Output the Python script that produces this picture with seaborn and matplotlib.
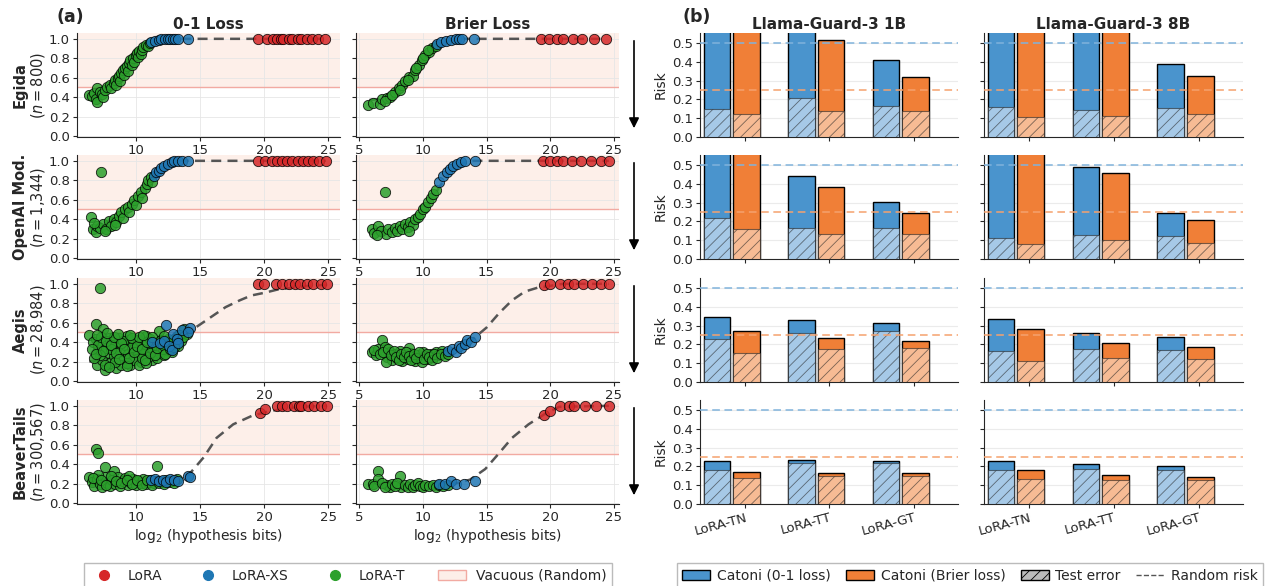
import numpy as np
import pandas as pd
import matplotlib
matplotlib.use("Agg")
import matplotlib.pyplot as plt
import seaborn as sns
from matplotlib.lines import Line2D
from matplotlib.patches import Patch

sns.set_style("ticks")
plt.rcParams['font.family'] = ['DejaVu Sans']
plt.rcParams['hatch.linewidth'] = 0.6

# ---------------- panel (a) data: (log2 bits, risk) ----------------
egida_01_green = [(6.4,0.42),(6.6,0.41),(6.8,0.44),(6.9,0.38),(7.0,0.35),(7.0,0.49),(7.2,0.45),(7.4,0.43),
                  (7.5,0.40),(7.6,0.47),(7.8,0.50),(8.0,0.52),(8.1,0.49),(8.3,0.55),(8.4,0.58),(8.5,0.52),
                  (8.6,0.60),(8.7,0.62),(8.8,0.57),(8.9,0.65),(9.0,0.68),(9.1,0.63),(9.2,0.70),(9.3,0.72),
                  (9.4,0.67),(9.5,0.75),(9.6,0.78),(9.7,0.73),(9.8,0.80),(9.9,0.76),(10.0,0.83),(10.1,0.85),
                  (10.2,0.81),(10.3,0.87),(10.4,0.84),(10.5,0.89),(10.6,0.92),(10.8,0.94),(11.0,0.93),(11.1,0.96)]
egida_01_blue = [(11.2,0.97),(11.5,0.98),(11.8,0.99),(12.0,1.0),(12.3,1.0),(12.5,1.0),(12.7,1.0),(12.9,1.0),
                 (13.1,1.0),(13.3,1.0),(14.1,1.0)]
egida_01_red = [(19.5,1.0),(20.2,1.0),(20.7,1.0),(21.0,1.0),(21.3,1.0),(21.5,1.0),(21.9,1.0),(22.2,1.0),
                (22.6,1.0),(22.9,1.0),(23.3,1.0),(23.7,1.0),(24.2,1.0),(24.7,1.0)]
egida_01_fit_x = [6.3, 7.0, 7.5, 8.0, 8.5, 9.0, 9.5, 10.0, 10.5, 11.0, 11.5, 12.0, 12.5, 13.0, 14.0, 20.0, 24.7]
egida_01_fit_y = [0.41, 0.45, 0.48, 0.52, 0.57, 0.64, 0.71, 0.79, 0.86, 0.92, 0.96, 0.98, 0.99, 1.0, 1.0, 1.0, 1.0]

egida_br_green = [(5.7,0.32),(6.1,0.34),(6.6,0.33),(6.8,0.38),(7.2,0.39),(7.4,0.40),(7.8,0.45),(8.1,0.49),
                  (8.4,0.52),(8.6,0.57),(8.9,0.61),(9.2,0.62),(9.4,0.68),(9.7,0.73),(9.9,0.78),(10.2,0.83),
                  (10.5,0.86),(10.7,0.91),(11.0,0.93),(7.0,0.36),(7.6,0.42),(8.2,0.47),(8.8,0.58),(9.5,0.70),
                  (10.0,0.80),(10.4,0.88)]
egida_br_blue = [(11.1,0.95),(11.4,0.97),(11.8,0.98),(12.2,0.99),(12.6,1.0),(12.8,1.0),(13.1,1.0),(14.0,1.0)]
egida_br_red = [(19.3,1.0),(19.9,1.0),(20.5,1.0),(21.0,1.0),(21.8,1.0),(22.5,1.0),(23.4,1.0),(24.4,1.0)]
egida_br_fit_x = [5.8, 6.5, 7.0, 7.5, 8.0, 8.5, 9.0, 9.5, 10.0, 10.5, 11.0, 11.5, 12.0, 13.0, 14.0, 20.0, 24.4]
egida_br_fit_y = [0.37, 0.38, 0.40, 0.44, 0.49, 0.55, 0.62, 0.69, 0.77, 0.85, 0.91, 0.95, 0.98, 1.0, 1.0, 1.0, 1.0]

openai_01_green = [(6.5,0.42),(6.7,0.30),(6.9,0.27),(7.0,0.33),(7.2,0.31),(7.3,0.88),(7.5,0.35),(7.7,0.30),
                   (7.9,0.38),(8.1,0.33),(8.3,0.40),(8.5,0.37),(8.7,0.43),(8.9,0.47),(9.0,0.41),(9.2,0.50),
                   (9.4,0.53),(9.5,0.47),(9.7,0.56),(9.9,0.60),(10.0,0.55),(10.2,0.64),(10.4,0.68),(10.5,0.62),
                   (10.7,0.72),(10.9,0.76),(11.0,0.80),(11.2,0.83),(11.3,0.78),(6.8,0.36),(7.6,0.28),(8.4,0.34)]
openai_01_blue = [(11.4,0.84),(11.6,0.88),(11.8,0.90),(12.0,0.93),(12.2,0.95),(12.5,0.97),(12.8,0.99),
                  (13.0,1.0),(13.3,1.0),(13.6,1.0),(14.1,1.0)]
openai_01_red = [(19.5,1.0),(20.1,1.0),(20.6,1.0),(21.0,1.0),(21.4,1.0),(21.8,1.0),(22.2,1.0),(22.6,1.0),
                 (23.0,1.0),(23.4,1.0),(23.8,1.0),(24.3,1.0),(24.8,1.0)]
openai_01_fit_x = [6.5, 7.5, 8.5, 9.0, 9.5, 10.0, 10.5, 11.0, 11.5, 12.0, 12.5, 13.0, 13.5, 14.0, 20.0, 24.8]
openai_01_fit_y = [0.30, 0.35, 0.43, 0.48, 0.54, 0.61, 0.69, 0.78, 0.86, 0.92, 0.96, 0.98, 1.0, 1.0, 1.0, 1.0]

openai_br_green = [(6.0,0.30),(6.2,0.26),(6.5,0.33),(6.7,0.28),(7.0,0.68),(7.1,0.25),(7.3,0.30),(7.6,0.27),
                   (7.8,0.31),(8.0,0.28),(8.2,0.33),(8.4,0.30),(8.6,0.35),(8.8,0.32),(9.0,0.37),(9.2,0.34),
                   (9.4,0.40),(9.6,0.42),(9.8,0.45),(10.0,0.50),(10.2,0.53),(10.4,0.58),(10.6,0.62),(10.8,0.66),
                   (11.0,0.70),(6.4,0.24),(8.9,0.28)]
openai_br_blue = [(11.3,0.78),(11.6,0.84),(11.9,0.88),(12.1,0.92),(12.4,0.95),(12.7,0.97),(13.0,0.99),
                  (13.3,1.0),(14.1,1.0)]
openai_br_red = [(19.4,1.0),(20.0,1.0),(20.5,1.0),(21.0,1.0),(21.7,1.0),(22.4,1.0),(23.2,1.0),(24.0,1.0),
                 (24.6,1.0)]
openai_br_fit_x = [6.0, 7.0, 8.0, 9.0, 9.5, 10.0, 10.5, 11.0, 11.5, 12.0, 12.5, 13.0, 13.5, 14.0, 20.0, 24.6]
openai_br_fit_y = [0.27, 0.28, 0.30, 0.36, 0.41, 0.48, 0.57, 0.67, 0.77, 0.86, 0.92, 0.96, 0.99, 1.0, 1.0, 1.0]

aegis_01_green = [(6.4,0.47),(6.9,0.43),(6.9,0.59),(7.2,0.96),(7.5,0.54),(7.05,0.32),(7.0,0.16),(7.6,0.11),
                  (7.3,0.39),(7.9,0.44),(7.8,0.29),(8.5,0.13),(8.6,0.36),(8.7,0.44),(9.1,0.24),(9.3,0.46),
                  (9.6,0.17),(9.9,0.39),(10.1,0.27),(10.4,0.20),(10.8,0.46),(10.9,0.32),(11.3,0.22),(11.5,0.38),
                  (11.8,0.51),(11.9,0.29),(12.4,0.32),(12.9,0.38),(13.5,0.41),(14.0,0.48),(13.8,0.54),(13.2,0.46),
                  (6.7,0.40),(7.1,0.37),(7.4,0.22),(7.7,0.34),(8.0,0.19),(8.2,0.40),(8.3,0.26),(8.8,0.31),
                  (8.9,0.16),(9.2,0.37),(9.4,0.28),(9.5,0.42),(9.8,0.22),(10.0,0.33),(10.2,0.42),(10.3,0.16),
                  (10.6,0.29),(10.7,0.38),(11.0,0.25),(11.1,0.43),(11.4,0.31),(11.7,0.24),(12.0,0.42),(12.2,0.27),
                  (12.6,0.35),(12.8,0.30),(13.0,0.43),(13.3,0.36),(7.2,0.27),(8.1,0.33),(9.0,0.41),(9.7,0.35),
                  (10.5,0.24),(11.2,0.35),(12.1,0.33),(6.8,0.24),(7.6,0.17),(8.4,0.20),(9.3,0.19),(10.8,0.19),
                  (6.6,0.33),(6.9,0.28),(7.3,0.45),(7.5,0.31),(7.7,0.41),(7.9,0.14),(8.1,0.37),(8.3,0.45),
                  (8.5,0.29),(8.7,0.23),(8.9,0.39),(9.1,0.33),(9.3,0.15),(9.5,0.24),(9.7,0.44),(9.9,0.30),
                  (10.1,0.36),(10.3,0.45),(10.5,0.33),(10.7,0.22),(10.9,0.40),(11.1,0.29),(11.3,0.45),(11.5,0.27),
                  (11.7,0.34),(11.9,0.41),(12.1,0.37),(12.3,0.28),(12.5,0.43),(12.7,0.33),(13.0,0.35),(13.4,0.47),
                  (13.7,0.45),(7.0,0.47),(7.8,0.49),(8.6,0.48),(9.6,0.47),(10.6,0.47),(12.2,0.46)]
aegis_01_blue = [(11.3,0.40),(11.9,0.39),(12.2,0.41),(12.4,0.58),(12.6,0.36),(12.8,0.32),(12.9,0.48),
                 (13.2,0.43),(13.3,0.39),(13.6,0.52),(14.2,0.55),(14.1,0.50)]
aegis_01_red = [(19.5,1.0),(20.0,1.0),(20.9,1.0),(21.4,1.0),(21.9,1.0),(22.4,1.0),(22.8,1.0),(23.3,1.0),
                (23.8,1.0),(24.4,1.0),(24.9,1.0)]
aegis_01_fit_x = [6.4, 7.9, 10.0, 11.9, 13.0, 14.2, 15.0, 16.0, 17.0, 18.1, 19.0, 20.1, 21.0, 22.2, 23.5, 24.9]
aegis_01_fit_y = [0.20, 0.235, 0.29, 0.375, 0.44, 0.51, 0.58, 0.67, 0.76, 0.83, 0.88, 0.91, 0.94, 0.96, 0.98, 0.99]

aegis_br_green = [(6.0,0.30),(6.3,0.27),(6.5,0.33),(6.8,0.42),(7.0,0.35),(7.2,0.25),(7.4,0.30),(7.6,0.22),
                  (7.8,0.28),(8.0,0.24),(8.2,0.31),(8.4,0.21),(8.6,0.27),(8.8,0.23),(9.0,0.29),(9.2,0.25),
                  (9.4,0.21),(9.6,0.27),(9.8,0.24),(10.0,0.30),(10.2,0.26),(10.4,0.23),(10.6,0.28),(10.8,0.25),
                  (11.0,0.30),(11.2,0.27),(11.5,0.31),(11.8,0.29),(7.1,0.20),(8.9,0.34),(9.9,0.20),
                  (6.2,0.32),(6.6,0.28),(6.9,0.30),(7.3,0.33),(7.5,0.27),(7.7,0.31),(7.9,0.25),(8.1,0.22),
                  (8.3,0.28),(8.5,0.25),(8.7,0.30),(8.9,0.26),(9.1,0.22),(9.3,0.28),(9.5,0.24),(9.7,0.30),
                  (10.1,0.23),(10.3,0.28),(10.5,0.25),(10.7,0.22),(10.9,0.28),(11.1,0.24),(11.4,0.28),
                  (11.7,0.26),(12.0,0.28)]
aegis_br_blue = [(12.0,0.31),(12.3,0.33),(12.6,0.30),(12.8,0.36),(13.0,0.34),(13.3,0.38),(13.5,0.42),
                 (13.8,0.40),(14.1,0.45)]
aegis_br_red = [(19.5,0.99),(20.0,1.0),(20.8,1.0),(21.4,1.0),(21.9,1.0),(22.6,1.0),(23.3,1.0),(24.0,1.0),
                (24.6,1.0)]
aegis_br_fit_x = [6.0, 7.0, 8.0, 9.0, 10.0, 11.0, 12.0, 13.0, 13.5, 14.0, 15.0, 16.0, 17.0, 18.0, 19.0, 20.0, 21.0, 24.6]
aegis_br_fit_y = [0.30, 0.26, 0.24, 0.25, 0.26, 0.28, 0.31, 0.36, 0.40, 0.44, 0.55, 0.70, 0.83, 0.92, 0.96, 0.98, 1.0, 1.0]

beaver_01_green = [(6.4,0.27),(6.9,0.56),(7.05,0.51),(7.6,0.37),(8.3,0.33),(11.7,0.38),(6.6,0.22),(6.8,0.18),
                   (7.0,0.25),(7.2,0.20),(7.4,0.17),(7.6,0.27),(7.8,0.21),(8.0,0.18),(8.2,0.24),(8.4,0.20),
                   (8.6,0.27),(8.8,0.18),(9.0,0.23),(9.2,0.26),(9.4,0.19),(9.6,0.22),(9.8,0.25),(10.0,0.19),
                   (10.2,0.23),(10.4,0.21),(10.6,0.25),(10.8,0.20),(11.0,0.22),(11.2,0.24),(11.4,0.21),
                   (11.6,0.23),(12.0,0.22),(12.4,0.24),(12.8,0.23),(13.2,0.25),(7.1,0.29),(8.1,0.28),(9.5,0.28),
                   (6.7,0.26),(7.3,0.24),(7.7,0.19),(8.5,0.23),(8.9,0.21),(9.3,0.24),(9.7,0.20),(10.1,0.24),
                   (10.5,0.19),(10.9,0.24),(11.3,0.19),(11.8,0.21),(12.2,0.20),(12.6,0.22),(13.0,0.21)]
beaver_01_blue = [(11.2,0.24),(11.5,0.25),(11.8,0.23),(12.1,0.24),(12.4,0.22),(12.7,0.25),(13.0,0.24),
                  (13.3,0.23),(14.1,0.28),(14.2,0.27)]
beaver_01_red = [(19.7,0.93),(20.1,0.97),(21.0,1.0),(21.4,1.0),(21.8,1.0),(22.3,1.0),(22.7,1.0),(22.9,1.0),
                 (23.4,1.0),(23.9,1.0),(24.4,1.0),(24.9,1.0)]
beaver_01_fit_x = [6.4, 9.9, 13.2, 14.2, 15.3, 16.3, 17.6, 19.1, 20.6, 22.7, 24.9]
beaver_01_fit_y = [0.18, 0.21, 0.23, 0.30, 0.47, 0.67, 0.81, 0.90, 0.95, 0.99, 1.0]

beaver_br_green = [(5.7,0.20),(6.05,0.20),(6.45,0.33),(6.5,0.25),(7.2,0.19),(7.4,0.16),(8.2,0.28),(8.3,0.16),
                   (6.2,0.18),(6.8,0.21),(7.0,0.17),(7.6,0.20),(7.8,0.18),(8.0,0.21),(8.6,0.19),(8.8,0.17),
                   (9.0,0.20),(9.2,0.16),(9.4,0.19),(9.6,0.21),(9.8,0.18),(10.0,0.17),(10.2,0.19),(10.5,0.18),
                   (10.8,0.19),(11.0,0.17),(11.3,0.19),(11.6,0.18),(12.0,0.19)]
beaver_br_blue = [(11.3,0.195),(11.7,0.20),(12.2,0.23),(12.6,0.20),(13.2,0.20),(14.1,0.23)]
beaver_br_red = [(19.5,0.91),(20.0,0.95),(20.8,1.0),(21.45,1.0),(21.85,1.0),(22.7,1.0),(23.6,1.0),(24.6,1.0)]
beaver_br_fit_x = [5.7, 8.8, 12.2, 13.7, 14.9, 15.9, 17.0, 18.3, 19.5, 20.7, 24.6]
beaver_br_fit_y = [0.20, 0.18, 0.19, 0.24, 0.35, 0.50, 0.67, 0.81, 0.91, 0.99, 1.0]

dataset_names = ["Egida", "OpenAI Mod.", "Aegis", "BeaverTails"]
dataset_sizes = ["800", "1,344", "28,984", "300,567"]

# ---------------- panel (b) data ----------------
methods = ["LoRA-TN", "LoRA-TT", "LoRA-GT"]
# bound values above 0.55 run off the top of the axes
bound01_1b = [[0.70, 0.70, 0.412], [0.70, 0.443, 0.303], [0.348, 0.330, 0.312], [0.230, 0.234, 0.227]]
test01_1b = [[0.150, 0.205, 0.164], [0.216, 0.165, 0.165], [0.229, 0.262, 0.273], [0.180, 0.216, 0.216]]
boundbr_1b = [[0.70, 0.514, 0.320], [0.70, 0.385, 0.245], [0.270, 0.234, 0.220], [0.172, 0.167, 0.163]]
testbr_1b = [[0.120, 0.136, 0.136], [0.160, 0.135, 0.135], [0.155, 0.178, 0.180], [0.137, 0.149, 0.149]]
bound01_8b = [[0.70, 0.70, 0.387], [0.70, 0.490, 0.245], [0.336, 0.262, 0.237], [0.230, 0.211, 0.200]]
test01_8b = [[0.160, 0.141, 0.155], [0.110, 0.125, 0.120], [0.164, 0.176, 0.171], [0.180, 0.184, 0.180]]
boundbr_8b = [[0.70, 0.70, 0.323], [0.70, 0.455, 0.210], [0.283, 0.210, 0.187], [0.179, 0.152, 0.144]]
testbr_8b = [[0.107, 0.112, 0.121], [0.078, 0.100, 0.087], [0.114, 0.125, 0.123], [0.135, 0.128, 0.128]]
random_01 = 0.5
random_br = 0.25

# ---------------- colours ----------------
c_red, c_blue, c_green = "#d62728", "#1f77b4", "#2ca02c"
c_bar_blue, c_bar_orange = "#4a94cd", "#f07f37"
c_test_blue, c_test_orange = "#a6c9e7", "#f7bb94"
vac_fill, vac_line = "#fdefe9", "#f2aaa2"

W, H = 1267, 586
fig = plt.figure(figsize=(W / 100, H / 100), dpi=100)

def ax_at(x0, x1, y0, y1):
    return fig.add_axes([x0 / W, 1 - y1 / H, (x1 - x0) / W, (y1 - y0) / H])

rows_px = [(33, 137), (155, 259), (278, 382), (400, 504)]
scatter_cols = [(77, 340), (356, 619)]
bar_cols = [(700, 958), (984, 1243)]

scatter_panels = [
    [(egida_01_green, egida_01_blue, egida_01_red, egida_01_fit_x, egida_01_fit_y),
     (egida_br_green, egida_br_blue, egida_br_red, egida_br_fit_x, egida_br_fit_y)],
    [(openai_01_green, openai_01_blue, openai_01_red, openai_01_fit_x, openai_01_fit_y),
     (openai_br_green, openai_br_blue, openai_br_red, openai_br_fit_x, openai_br_fit_y)],
    [(aegis_01_green, aegis_01_blue, aegis_01_red, aegis_01_fit_x, aegis_01_fit_y),
     (aegis_br_green, aegis_br_blue, aegis_br_red, aegis_br_fit_x, aegis_br_fit_y)],
    [(beaver_01_green, beaver_01_blue, beaver_01_red, beaver_01_fit_x, beaver_01_fit_y),
     (beaver_br_green, beaver_br_blue, beaver_br_red, beaver_br_fit_x, beaver_br_fit_y)],
]
xlims = [(5.45, 25.9), (4.75, 25.4)]

for r, (y0, y1) in enumerate(rows_px):
    for c, (x0, x1) in enumerate(scatter_cols):
        ax = ax_at(x0, x1, y0, y1)
        green, blue, red, fx, fy = scatter_panels[r][c]
        ax.axhspan(0.5, 1.2, color=vac_fill, zorder=0, lw=0)
        ax.axhline(0.5, color=vac_line, lw=1, zorder=1)
        sns.lineplot(x=fx, y=fy, ax=ax, color="#555555", lw=1.8, linestyle=(0, (4, 2.5)), zorder=2)
        for pts, col in [(green, c_green), (blue, c_blue), (red, c_red)]:
            sns.scatterplot(x=[p[0] for p in pts], y=[p[1] for p in pts], ax=ax, color=col, s=55,
                            edgecolor="black", linewidth=0.6, alpha=0.85, zorder=3)
        ax.set_yticks(np.arange(0, 1.01, 0.2))
        ax.set_xticks([5, 10, 15, 20, 25])
        ax.set_xlim(*xlims[c])
        ax.set_ylim(-0.01, 1.06)
        ax.grid(True, color="#e6e6e6", lw=0.6, zorder=0)
        ax.set_axisbelow(True)
        sns.despine(ax=ax)
        ax.tick_params(labelsize=9.5, length=3, pad=2)
        if c == 1:
            ax.set_yticklabels([])
        else:
            ax.text(-0.215, 0.5, dataset_names[r], rotation=90, transform=ax.transAxes,
                    ha="center", va="center", fontsize=10.5, fontweight="bold")
            ax.text(-0.15, 0.5, r"($n = $" + dataset_sizes[r] + ")", rotation=90, transform=ax.transAxes,
                    ha="center", va="center", fontsize=10.5)
        if r == 0:
            ax.set_title(["0-1 Loss", "Brier Loss"][c], fontsize=11, fontweight="bold", pad=3)
        if r == 3:
            ax.set_xlabel(r"log$_2$ (hypothesis bits)", fontsize=10, labelpad=2)

    # downward arrow at the right of the scatter column
    fig.add_artist(matplotlib.patches.FancyArrowPatch(
        (634 / W, 1 - (y0 + 5) / H), (634 / W, 1 - (y1 - 6) / H), transform=fig.transFigure,
        arrowstyle="-|>,head_width=3,head_length=6", color="black", lw=1.2))

# ---------------- bars ----------------
bar_data = [(bound01_1b, test01_1b, boundbr_1b, testbr_1b), (bound01_8b, test01_8b, boundbr_8b, testbr_8b)]
for r, (y0, y1) in enumerate(rows_px):
    for c, (x0, x1) in enumerate(bar_cols):
        ax = ax_at(x0, x1, y0, y1)
        b01, t01, bbr, tbr = bar_data[c]
        df = pd.DataFrame({
            "method": methods * 2,
            "loss": ["0-1"] * 3 + ["Brier"] * 3,
            "bound": b01[r] + bbr[r],
            "test": t01[r] + tbr[r],
        })
        sns.barplot(data=df, x="method", y="bound", hue="loss", palette=[c_bar_blue, c_bar_orange],
                    saturation=1, width=0.7, gap=0.1, edgecolor="black", linewidth=1.0, ax=ax,
                    legend=False, zorder=2)
        n_first = len(ax.patches)
        sns.barplot(data=df, x="method", y="test", hue="loss", palette=[c_test_blue, c_test_orange],
                    saturation=1, width=0.7, gap=0.1, edgecolor=(0.15, 0.15, 0.15, 0.6), linewidth=0.8,
                    ax=ax, legend=False, zorder=3)
        for i, p in enumerate(ax.patches):
            p.set_x(p.get_x() - 0.155)
            if i >= n_first:
                p.set_hatch("///")
        ax.axhline(random_01, color="#80b3dc", ls=(0, (5, 3)), lw=1.1, zorder=4)
        ax.axhline(random_br, color="#f5a26e", ls=(0, (5, 3)), lw=1.1, zorder=4)
        ax.set_xticks(range(3))
        ax.set_xlim(-0.53, 2.52)
        ax.set_ylim(0, 0.553)
        ax.set_yticks(np.arange(0, 0.51, 0.1))
        ax.grid(True, axis="y", color="#ebebeb", lw=0.8, zorder=0)
        ax.set_axisbelow(True)
        sns.despine(ax=ax)
        ax.tick_params(labelsize=9.5, length=3, pad=2)
        ax.set_xlabel("")
        if c == 0:
            ax.set_ylabel("Risk", fontsize=10, labelpad=3)
        else:
            ax.set_ylabel("")
            ax.set_yticklabels([])
        if r == 0:
            ax.set_title(["Llama-Guard-3 1B", "Llama-Guard-3 8B"][c], fontsize=11, fontweight="bold", pad=3)
        if r == 3:
            ax.set_xticklabels(methods, rotation=15, ha="right", fontsize=9.5, rotation_mode="anchor")
        else:
            ax.set_xticklabels([])

fig.text(57 / W, 1 - 17 / H, "(a)", fontsize=12.5, fontweight="bold", va="center")
fig.text(683 / W, 1 - 17 / H, "(b)", fontsize=12.5, fontweight="bold", va="center")

# ---------------- legends ----------------
h_left = [
    Line2D([], [], marker="o", ls="", color=c_red, markersize=7),
    Line2D([], [], marker="o", ls="", color=c_blue, markersize=7),
    Line2D([], [], marker="o", ls="", color=c_green, markersize=7),
    Patch(facecolor=vac_fill, edgecolor=vac_line),
]
fig.legend(h_left, ["LoRA", "LoRA-XS", "LoRA-T", "Vacuous (Random)"], ncol=4,
           loc="upper center", bbox_to_anchor=(348 / W, 1 - 556 / H), fontsize=10,
           fancybox=False, edgecolor="#aaaaaa", columnspacing=2.35, handletextpad=0.7)
h_right = [
    Patch(facecolor=c_bar_blue, edgecolor="black"),
    Patch(facecolor=c_bar_orange, edgecolor="black"),
    Patch(facecolor="#bbbbbb", edgecolor="black", hatch="///"),
    Line2D([], [], color="#555555", ls="--", lw=1),
]
fig.legend(h_right, ["Catoni (0-1 loss)", "Catoni (Brier loss)", "Test error", "Random risk"], ncol=4,
           loc="upper center", bbox_to_anchor=(970 / W, 1 - 556 / H), fontsize=10,
           fancybox=False, edgecolor="#aaaaaa", columnspacing=1.1, handletextpad=0.5)

fig.savefig("out.png", dpi=100)
